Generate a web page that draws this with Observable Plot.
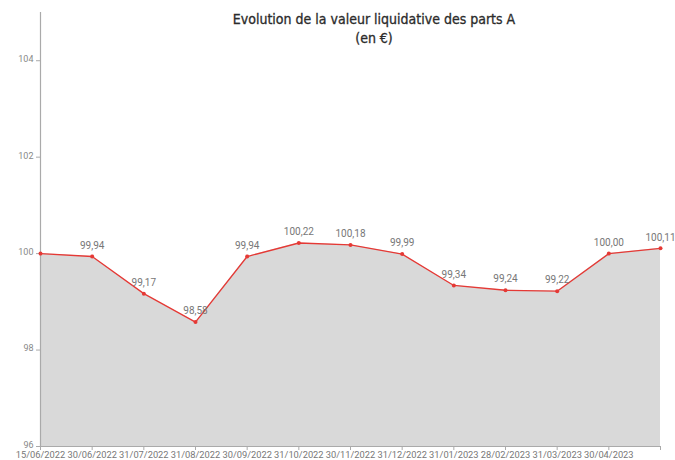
<!DOCTYPE html>
<html>
<head>
<meta charset="utf-8">
<script src="https://cdn.jsdelivr.net/npm/d3@7"></script>
<script src="https://cdn.jsdelivr.net/npm/@observablehq/plot@0.6"></script>
<style>
  body { margin: 0; background: #fff; }
  #wrap { position: relative; width: 675px; height: 460px; }
  #title { position: absolute; top: 10px; left: 374px; transform: translateX(-50%);
    font-family: "DejaVu Sans Condensed", "DejaVu Sans", sans-serif; font-size: 14px;
    color: #2b2b2b; text-align: center; line-height: 19px; white-space: nowrap;
    -webkit-text-stroke: 0.3px #2b2b2b; }
  svg { font-family: Roboto, "Open Sans", sans-serif; }
</style>
</head>
<body>
<div id="wrap">
  <div id="title">Evolution de la valeur liquidative des parts A<br>(en €)</div>
</div>
<script>
const dates = ["15/06/2022","30/06/2022","31/07/2022","31/08/2022","30/09/2022","31/10/2022","30/11/2022","31/12/2022","31/01/2023","28/02/2023","31/03/2023","30/04/2023","31/05/2023"];
const tickLabels = ["15/06/2022","30/06/2022","31/07/2022","31/08/2022","30/09/2022","31/10/2022","30/11/2022","31/12/2022","31/01/2023","28/02/2023","31/03/2023","30/04/2023",""];
const values = [100.00, 99.94, 99.17, 98.58, 99.94, 100.22, 100.18, 99.99, 99.34, 99.24, 99.22, 100.00, 100.11];
const yTicks = [96, 98, 100, 102, 104];

const data = dates.map((d, i) => ({date: d, value: values[i], i}));
const fmt = v => v.toFixed(2).replace(".", ",");

const chart = Plot.plot({
  width: 675,
  height: 460,
  marginLeft: 40,
  marginRight: 15,
  marginTop: 12,
  marginBottom: 14,
  x: {type: "point", domain: dates, padding: 0, round: false, label: null},
  y: {domain: [96, 105], label: null},
  style: {fontSize: "10px", color: "#888", background: "#fff"},
  marks: [
    Plot.areaY(data, {x: "date", y1: 96, y2: "value", fill: "#d9d9d9"}),
    Plot.ruleX([dates[0]], {y1: 96, y2: 105, stroke: "#aaa", strokeWidth: 1.2}),
    Plot.ruleY([96], {stroke: "#aaa", strokeWidth: 1.2}),
    Plot.axisY({ticks: yTicks, tickSize: 4, text: null, stroke: "#aaa", label: null}),
    Plot.axisY({ticks: yTicks, tickSize: 0, tickPadding: 7, tickFormat: d => d, fill: "#888", fontSize: 9, dy: -1.5, label: null}),
    Plot.axisX({ticks: dates, tickSize: 4, tickPadding: 1, tickFormat: d => tickLabels[dates.indexOf(d)], stroke: "#aaa", fill: "#777", fontSize: 9.3, label: null}),
    Plot.line(data, {x: "date", y: "value", stroke: "#e53935", strokeWidth: 1.3}),
    Plot.dot(data, {x: "date", y: "value", fill: "#e53935", r: 2}),
    Plot.text(data.filter(d => d.i > 0), {x: "date", y: "value", text: d => fmt(d.value), dy: -11, fill: "#777", fontSize: 10})
  ]
});
document.getElementById("wrap").prepend(chart);
chart.style.position = "absolute";
chart.style.left = "0";
chart.style.top = "0";
</script>
</body>
</html>
